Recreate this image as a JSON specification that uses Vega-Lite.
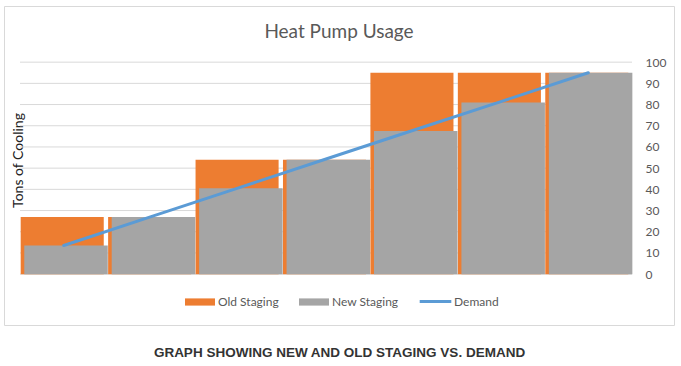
{
  "$schema": "https://vega.github.io/schema/vega-lite/v6.json",
  "autosize": "none",
  "width": 670,
  "height": 319,
  "padding": {"left": 4, "top": 6, "right": 7, "bottom": 41},
  "background": "white",
  "title": {
    "text": "Heat Pump Usage",
    "font": "Lato",
    "fontSize": 19,
    "fontWeight": "normal",
    "color": "#595959",
    "anchor": "middle",
    "offset": 0,
    "dy": 36
  },
  "config": {
    "view": {"stroke": "#d9d9d9", "strokeWidth": 1},
    "axisX": {
      "labels": false, "ticks": false, "domain": false, "grid": false,
      "titleFont": "Liberation Sans", "titleFontSize": 13.5, "titleFontWeight": "bold",
      "titleColor": "#333333", "titleY": 27, "titleBaseline": "middle"
    },
    "axisY": {
      "ticks": false, "tickSize": 0, "domain": false, "grid": false,
      "labelFont": "Lato", "labelFontSize": 12, "labelColor": "#595959", "labelPadding": 0,
      "titleFont": "Lato", "titleFontSize": 14, "titleFontWeight": "normal", "titleColor": "#222222",
      "titleX": -627, "titleY": 154, "titleAngle": 270, "titleBaseline": "middle", "titleAlign": "center"
    },
    "legend": {
      "labelFont": "Lato", "labelFontSize": 12, "labelColor": "#595959", "title": null
    }
  },
  "datasets": {
    "usage": [
      {"cat": 1, "old": 27, "new": 13.5, "demand": 13.5},
      {"cat": 2, "old": 27, "new": 27, "demand": 27.1},
      {"cat": 3, "old": 54, "new": 40.5, "demand": 40.7},
      {"cat": 4, "old": 54, "new": 54, "demand": 54.3},
      {"cat": 5, "old": 95, "new": 67.5, "demand": 67.9},
      {"cat": 6, "old": 95, "new": 81, "demand": 81.4},
      {"cat": 7, "old": 95, "new": 95, "demand": 95}
    ],
    "grid": [
      {"g": 0}, {"g": 10}, {"g": 20}, {"g": 30}, {"g": 40}, {"g": 50},
      {"g": 60}, {"g": 70}, {"g": 80}, {"g": 90}, {"g": 100}
    ]
  },
  "layer": [
    {
      "data": {"name": "grid"},
      "mark": {"type": "rule", "color": "#d9d9d9", "strokeWidth": 1},
      "encoding": {
        "x": {"datum": 1, "type": "ordinal", "bandPosition": 0,
              "scale": {"paddingInner": 0, "paddingOuter": 0.3316, "align": 0.276},
              "title": "GRAPH SHOWING NEW AND OLD STAGING VS. DEMAND"},
        "x2": {"datum": 7, "bandPosition": 1},
        "y": {"field": "g", "type": "quantitative",
              "scale": {"domain": [-24, 126.5], "nice": false, "zero": false},
              "axis": {"orient": "right", "offset": -29, "values": [0,10,20,30,40,50,60,70,80,90,100]},
              "title": "Tons of Cooling"}
      }
    },
    {
      "data": {"name": "usage"},
      "mark": {"type": "bar", "width": {"band": 0.95}, "xOffset": -1.5},
      "encoding": {
        "x": {"field": "cat", "type": "ordinal", "title": "GRAPH SHOWING NEW AND OLD STAGING VS. DEMAND"},
        "y": {"field": "old", "type": "quantitative",
              "axis": {"orient": "right", "offset": -29, "values": [0,10,20,30,40,50,60,70,80,90,100]},
              "title": "Tons of Cooling"},
        "y2": {"datum": 0},
        "color": {"datum": "Old Staging", "type": "nominal",
                  "scale": {"domain": ["Old Staging", "New Staging"], "range": ["#ed7d31", "#a5a5a5"]},
                  "legend": {"orient": "none", "direction": "horizontal", "legendX": 181, "legendY": 281,
                             "symbolType": "M-1,-0.24H1V0.24H-1Z", "symbolSize": 900, "symbolStrokeWidth": 0,
                             "labelOffset": 3, "columnPadding": 20, "padding": 0}}
      }
    },
    {
      "data": {"name": "usage"},
      "mark": {"type": "bar", "width": {"band": 0.955}, "xOffset": 2.3},
      "encoding": {
        "x": {"field": "cat", "type": "ordinal", "title": "GRAPH SHOWING NEW AND OLD STAGING VS. DEMAND"},
        "y": {"field": "new", "type": "quantitative",
              "axis": {"orient": "right", "offset": -29, "values": [0,10,20,30,40,50,60,70,80,90,100]},
              "title": "Tons of Cooling"},
        "y2": {"datum": 0},
        "color": {"datum": "New Staging", "type": "nominal"}
      }
    },
    {
      "data": {"name": "usage"},
      "mark": {"type": "line", "strokeWidth": 3, "strokeCap": "round"},
      "encoding": {
        "x": {"field": "cat", "type": "ordinal", "title": "GRAPH SHOWING NEW AND OLD STAGING VS. DEMAND"},
        "y": {"field": "demand", "type": "quantitative",
              "axis": {"orient": "right", "offset": -29, "values": [0,10,20,30,40,50,60,70,80,90,100]},
              "title": "Tons of Cooling"},
        "stroke": {"datum": "Demand", "type": "nominal",
                   "scale": {"domain": ["Demand"], "range": ["#5b9bd5"]},
                   "legend": {"orient": "none", "legendX": 414, "legendY": 278,
                              "symbolType": "stroke", "symbolSize": 1000, "symbolStrokeWidth": 3,
                              "labelOffset": 1, "padding": 0}}
      }
    }
  ]
}
